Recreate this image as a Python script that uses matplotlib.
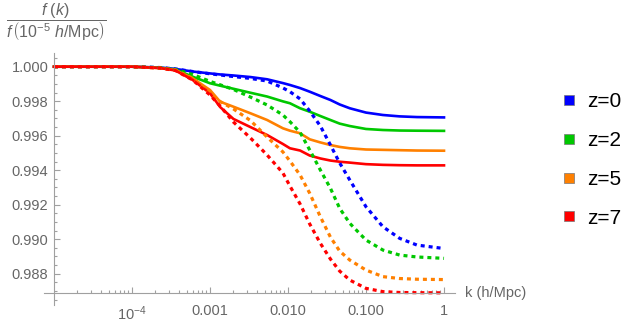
import matplotlib
matplotlib.use("Agg")
import matplotlib.pyplot as plt
from matplotlib.lines import Line2D
from matplotlib.ticker import FixedLocator, NullFormatter

plt.rcParams['font.family'] = ['Liberation Sans', 'DejaVu Sans']
plt.rcParams['mathtext.fontset'] = 'custom'
plt.rcParams['mathtext.rm'] = 'Liberation Sans'
plt.rcParams['mathtext.it'] = 'Liberation Sans:italic'
plt.rcParams['mathtext.bf'] = 'Liberation Sans:bold'

# k in h/Mpc
k = [1e-5, 1e-4, 2.3e-4, 3.6e-4, 6e-4, 1e-3, 1.35e-3, 2e-3, 3.3e-3, 5.4e-3,
     8.6e-3, 0.0106, 0.0143, 0.019, 0.026, 0.035, 0.046, 0.062, 0.10, 0.165,
     0.27, 0.45, 1.0]

# solid curves
z0_solid = [1.0, 1.0, 0.99995, 0.99987, 0.99972, 0.99961, 0.99955, 0.99949, 0.99940, 0.99927,
            0.99905, 0.99894, 0.99876, 0.99855, 0.99830, 0.99807, 0.99781, 0.99759, 0.99734, 0.99720,
            0.99712, 0.99708, 0.99706]
z2_solid = [1.0, 1.0, 0.99994, 0.99984, 0.99942, 0.99904, 0.99890, 0.99872, 0.99849, 0.99827,
            0.99799, 0.99788, 0.99759, 0.99739, 0.99714, 0.99691, 0.99670, 0.99656, 0.99639, 0.99633,
            0.99630, 0.99629, 0.99628]
z5_solid = [1.0, 1.0, 0.99992, 0.99981, 0.99933, 0.99865, 0.99797, 0.99768, 0.99730, 0.99691,
            0.99643, 0.99629, 0.99614, 0.99579, 0.99561, 0.99546, 0.99535, 0.99527, 0.99520, 0.99518,
            0.99516, 0.99514, 0.99513]
z7_solid = [1.0, 1.0, 0.99992, 0.99978, 0.99923, 0.99846, 0.99766, 0.99697, 0.99650, 0.99604,
            0.99552, 0.99527, 0.99514, 0.99485, 0.99468, 0.99456, 0.99449, 0.99444, 0.99435, 0.99431,
            0.99429, 0.99428, 0.99428]

# dotted curves
z0_dotted = [1.0, 1.0, 0.99995, 0.99987, 0.99972, 0.99959, 0.99952, 0.99943, 0.99932, 0.99917,
             0.99877, 0.99855, 0.99813, 0.99743, 0.99656, 0.99546, 0.99442, 0.99343, 0.99188, 0.99072,
             0.99005, 0.98966, 0.98946]
z2_dotted = [1.0, 1.0, 0.99994, 0.99984, 0.99955, 0.99915, 0.99895, 0.99868, 0.99824, 0.99778,
             0.99720, 0.99681, 0.99619, 0.99517, 0.99401, 0.99295, 0.99179, 0.99092, 0.98995, 0.98937,
             0.98908, 0.98897, 0.98889]
z5_dotted = [1.0, 1.0, 0.99992, 0.99981, 0.99933, 0.99846, 0.99798, 0.99755, 0.99688, 0.99592,
             0.99506, 0.99453, 0.99372, 0.99266, 0.99130, 0.99012, 0.98931, 0.98879, 0.98821, 0.98783,
             0.98772, 0.98768, 0.98766]
z7_dotted = [1.0, 1.0, 0.99992, 0.99978, 0.99923, 0.99836, 0.99772, 0.99679, 0.99587, 0.99488,
             0.99384, 0.99308, 0.99204, 0.99088, 0.98976, 0.98885, 0.98815, 0.98763, 0.98715, 0.98696,
             0.98691, 0.98690, 0.98689]

labels = ["z=0", "z=2", "z=5", "z=7"]
colors = ["#0000ff", "#00c800", "#ff8000", "#ff0000"]
solids = [z0_solid, z2_solid, z5_solid, z7_solid]
dotteds = [z0_dotted, z2_dotted, z5_dotted, z7_dotted]

xtick_vals = [1e-4, 1e-3, 1e-2, 1e-1, 1]
xtick_labels = ["10$^{-4}$", "0.001", "0.010", "0.100", "1"]

axis_gray = "#a0a0a0"
text_gray = "#666666"

fig = plt.figure(figsize=(6.41, 3.27), dpi=100)
ax = fig.add_axes([44/641, 22/327, 411/641, 252/327])

for c, ys in zip(colors, solids):
    ax.plot(k, ys, color=c, lw=1.9, solid_joinstyle="round")
for c, ys in zip(colors, dotteds):
    ax.plot(k, ys, color=c, lw=2.3, linestyle=(0, (1.25, 1.25)))

ax.set_xscale("log")
ax.set_xlim(10**-5.128, 10**0.141)
ax.set_ylim(0.986186, 1.000794)

for s in ["top", "right"]:
    ax.spines[s].set_visible(False)
ax.spines["left"].set_position(("data", 1e-5))
ax.spines["bottom"].set_position(("data", 0.98688))
ax.spines["left"].set_color(axis_gray)
ax.spines["bottom"].set_color(axis_gray)
ax.spines["left"].set_linewidth(0.8)
ax.spines["bottom"].set_linewidth(0.8)

ax.xaxis.set_major_locator(FixedLocator(xtick_vals))
ax.set_xticklabels(xtick_labels)
minors = [m * 10.0**e for e in range(-5, 0) for m in range(2, 10)]
ax.xaxis.set_minor_locator(FixedLocator(minors))
ax.xaxis.set_minor_formatter(NullFormatter())

yt = [0.988, 0.990, 0.992, 0.994, 0.996, 0.998, 1.000]
ax.yaxis.set_major_locator(FixedLocator(yt))
ax.set_yticklabels(["%.3f" % v for v in yt])
ax.yaxis.set_minor_locator(FixedLocator([0.9865 + 0.0005 * i for i in range(29)]))

ax.tick_params(which="both", direction="in", color=axis_gray, width=0.8,
               labelcolor=text_gray, labelsize=10.5)
ax.tick_params(which="major", length=4)
ax.tick_params(which="minor", length=2.2)
ax.tick_params(axis="x", which="major", pad=8)
ax.tick_params(axis="y", which="major", pad=4)

fig.text(465/641, 1 - 293/327, "k (h/Mpc)", color=text_gray, fontsize=10.5,
         ha="left", va="center")
fig.text(56/641, 1 - 22/327,
         r"$\dfrac{f\ (k)}{f\,\left(10^{-5}\ h/\mathrm{Mpc}\right)}$",
         color=text_gray, fontsize=11.5, ha="center", va="center")

handles = [Line2D([], [], marker="s", linestyle="none", markersize=7.5,
                  markerfacecolor=c, markeredgecolor="#777777", markeredgewidth=0.5)
           for c in colors]
fig.legend(handles, labels, loc="center left", bbox_to_anchor=(548/641, 1 - 160/327),
           frameon=False, fontsize=15, labelspacing=0.95, handletextpad=0.4,
           handlelength=1.0, borderpad=0)

fig.savefig("out.png", dpi=100)
